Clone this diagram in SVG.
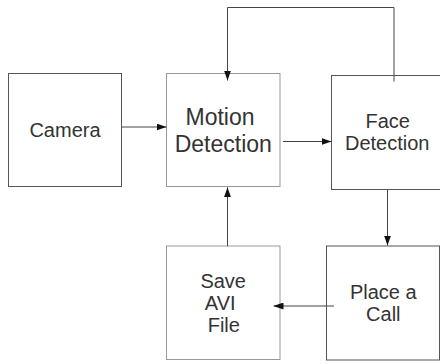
<svg xmlns="http://www.w3.org/2000/svg" width="440" height="364" viewBox="0 0 440 364">
<defs>
<marker id="arr" viewBox="0 0 10 7" refX="10" refY="3.5" markerWidth="10" markerHeight="7" markerUnits="userSpaceOnUse" orient="auto">
<path d="M0,0 L10,3.5 L0,7 Z" fill="#111"/>
</marker>
<style>
.box{fill:#fff;stroke:#555;stroke-width:1}
.boxl{fill:#fff;stroke:#999;stroke-width:1}
.t{font-family:"Liberation Sans",Arial,sans-serif;font-size:20px;fill:#333;text-anchor:middle}
.tl{font-size:23px}
.c{fill:none;stroke:#444;stroke-width:1;marker-end:url(#arr)}
.cn{fill:none;stroke:#444;stroke-width:1}
</style>
</defs>
<rect width="440" height="364" fill="#fff"/>
<g id="camera">
<rect class="box" x="8.5" y="73.5" width="113" height="113"/>
<text class="t" x="65" y="136.7">Camera</text>
</g>
<g id="motion">
<rect class="boxl" x="166.5" y="73.5" width="113.5" height="113"/>
<text class="t tl" x="220" y="125">Motion</text>
<text class="t tl" x="223.3" y="151.7">Detection</text>
</g>
<g id="face">
<rect class="box" x="331.5" y="75.5" width="120" height="114"/>
<text class="t" x="387.7" y="128.3">Face</text>
<text class="t" x="387.2" y="150">Detection</text>
</g>
<g id="save">
<rect class="boxl" x="166.5" y="246" width="113.5" height="113.5"/>
<text class="t" x="223.2" y="288.3">Save</text>
<text class="t" x="220.2" y="310">AVI</text>
<text class="t" x="223.8" y="331.7">File</text>
</g>
<g id="call">
<rect class="box" x="326.5" y="246" width="113" height="114"/>
<text class="t" x="383.3" y="299.3">Place a</text>
<text class="t" x="383.3" y="320.7">Call</text>
</g>
<g id="connectors">
<path class="c" d="M121.5,127 H166.5"/>
<path class="c" d="M283,141.5 H331.5"/>
<path class="c" d="M394,81.5 V7.5 H227.5 V80.5"/>
<path class="c" d="M387.5,189.5 V245.5"/>
<path class="c" d="M334,306 H273.5"/>
<path class="c" d="M227.5,246 V187.3"/>
</g>
</svg>
